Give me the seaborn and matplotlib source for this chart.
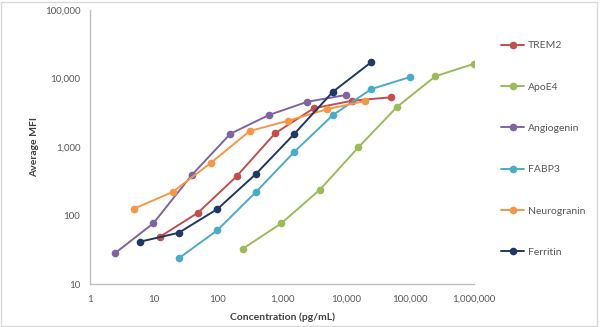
import numpy as np
import pandas as pd
import matplotlib
matplotlib.use("Agg")
import matplotlib.pyplot as plt
import matplotlib.ticker as mticker
from matplotlib.lines import Line2D
from matplotlib.patches import Rectangle
import seaborn as sns

# ---- data ----
series_names = ["TREM2", "ApoE4", "Angiogenin", "FABP3", "Neurogranin", "Ferritin"]

trem2_x = [12.2, 48.8, 195, 781, 3125, 12500, 50000]
trem2_y = [48.5, 110, 373, 1585, 3670, 4740, 5310]

apoe4_x = [244, 977, 3906, 15625, 62500, 250000, 1000000]
apoe4_y = [32.7, 77, 238, 990, 3840, 10800, 16400]

angiogenin_x = [2.44, 9.77, 39, 156, 625, 2500, 10000]
angiogenin_y = [28, 77, 390, 1560, 2930, 4580, 5740]

fabp3_x = [24.4, 97.7, 391, 1563, 6250, 25000, 100000]
fabp3_y = [23.7, 61, 220, 853, 2930, 7030, 10500]

neurogranin_x = [4.88, 19.5, 78, 313, 1250, 5000, 20000]
neurogranin_y = [126, 220, 590, 1710, 2420, 3550, 4700]

ferritin_x = [6.1, 24.4, 97.7, 391, 1563, 6250, 25000]
ferritin_y = [41.5, 56, 124, 404, 1560, 6410, 17400]

x_ticks = [1, 10, 100, 1000, 10000, 100000, 1000000]
x_tick_labels = ["1", "10", "100", "1,000", "10,000", "100,000", "1,000,000"]
y_ticks = [10, 100, 1000, 10000, 100000]
y_tick_labels = ["10", "100", "1,000", "10,000", "100,000"]

colors = {"TREM2": "#C0504D", "ApoE4": "#9BBB59", "Angiogenin": "#8064A2",
          "FABP3": "#4BACC6", "Neurogranin": "#F79646", "Ferritin": "#1F3864"}

xs = [trem2_x, apoe4_x, angiogenin_x, fabp3_x, neurogranin_x, ferritin_x]
ys = [trem2_y, apoe4_y, angiogenin_y, fabp3_y, neurogranin_y, ferritin_y]
rows = []
for name, xv, yv in zip(series_names, xs, ys):
    for i, (a, b) in enumerate(zip(xv, yv)):
        rows.append({"series": name, "conc": a, "mfi": b, "order": i})
df = pd.DataFrame(rows)

sns.set_theme(style="white")
plt.rcParams["font.family"] = ["Lato", "DejaVu Sans"]

fig = plt.figure(figsize=(6.0, 3.27), dpi=100)
W, H = 600, 327
ax = fig.add_axes([90 / W, 1 - 284 / H, (474 - 90) / W, (284 - 10) / H])

sns.lineplot(data=df, x="conc", y="mfi", hue="series", hue_order=series_names,
             palette=colors, sort=False, marker="o", markersize=5.5,
             markeredgewidth=0, linewidth=1.4, ax=ax, legend=False,
             estimator=None, units="series")

ax.set_xscale("log")
ax.set_yscale("log")
ax.set_xlim(1, 1000000)
ax.set_ylim(10, 100000)
ax.xaxis.set_major_locator(mticker.FixedLocator(x_ticks))
ax.yaxis.set_major_locator(mticker.FixedLocator(y_ticks))
ax.xaxis.set_minor_locator(mticker.NullLocator())
ax.yaxis.set_minor_locator(mticker.NullLocator())
ax.set_xticklabels(x_tick_labels)
ax.set_yticklabels(y_tick_labels)
ax.tick_params(axis="both", which="major", length=4, width=0.8, color="#BFBFBF",
               labelsize=7, labelcolor="#595959", direction="out")
ax.tick_params(axis="x", pad=4)
ax.tick_params(axis="y", pad=3)

for s in ["top", "right"]:
    ax.spines[s].set_visible(False)
for s in ["left", "bottom"]:
    ax.spines[s].set_color("#BFBFBF")
    ax.spines[s].set_linewidth(1.0)

ax.set_xlabel("Concentration (pg/mL)", fontsize=7.5, fontweight="bold",
              color="#404040", labelpad=6)
ax.set_ylabel("Average MFI", fontsize=7.5, fontweight="bold",
              color="#404040", labelpad=4)

# legend
handles = [Line2D([0], [0], color=colors[n], marker="o", markersize=5.5,
                  markeredgewidth=0, linewidth=1.4) for n in series_names]
leg = fig.legend(handles, series_names, loc="upper left",
                 bbox_to_anchor=(497 / W, 1 - 37 / H), frameon=False,
                 fontsize=7.5, labelcolor="#595959", handlelength=2.2,
                 handletextpad=0.4, labelspacing=3.07, borderaxespad=0)

# chart border
fig.patches.append(Rectangle((1 / W, 1 / H), 1 - 4 / W, 1 - 3 / H,
                             transform=fig.transFigure, fill=False,
                             edgecolor="#D9D9D9", linewidth=1.0))

fig.savefig("out.png", dpi=100)
